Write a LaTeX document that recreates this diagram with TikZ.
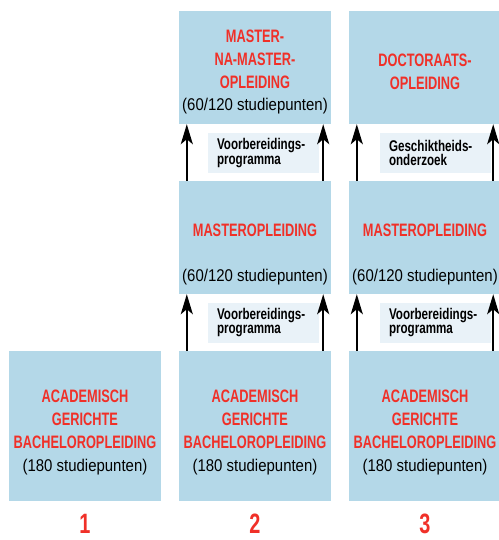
\documentclass[tikz,border=0pt]{standalone}
\usepackage{fontspec}
\usetikzlibrary{arrows.meta}
\newfontfamily\titlefont[FakeStretch=0.71]{Liberation Sans}
\newfontfamily\bodyfont[FakeStretch=0.88]{Liberation Sans}
\newfontfamily\labelfont[FakeStretch=0.75]{Liberation Sans}
\definecolor{boxblue}{RGB}{180,216,232}
\definecolor{labelblue}{RGB}{233,242,248}
\definecolor{titlered}{RGB}{240,48,40}
\tikzset{
  stagebox/.style={fill=boxblue, draw=none, inner sep=0pt, minimum width=152pt},
  topbox/.style={stagebox, minimum height=113pt},
  bachbox/.style={stagebox, minimum height=150pt},
  titletext/.style={anchor=north, inner sep=0pt, align=center, text=titlered,
    font=\titlefont\bfseries\fontsize{18}{23}\selectfont},
  bodytext/.style={anchor=base, inner sep=0pt, text=black,
    font=\bodyfont\fontsize{17}{20}\selectfont},
  labelbox/.style={fill=labelblue, draw=none, inner xsep=9pt, inner ysep=0pt,
    text width=93pt, minimum height=40pt, align=left,
    font=\labelfont\bfseries\fontsize{15.5}{14.5}\selectfont},
  numtext/.style={anchor=north, inner sep=0pt, text=titlered,
    font=\titlefont\bfseries\fontsize{28}{28}\selectfont},
  uparrow/.style={draw=black, line width=2.2pt,
    -{Stealth[length=20pt, width=12pt, inset=5pt]}}
}
\begin{document}
\begin{tikzpicture}[x=1pt, y=-1pt]
\useasboundingbox (0,0) rectangle (498,540);
% boxes
\node[bachbox] (b1) at (85,426) {};
\node[bachbox] (b2) at (255,426) {};
\node[bachbox] (b3) at (425,426) {};
\node[topbox] (m2) at (255,237.5) {};
\node[topbox] (m3) at (425,237.5) {};
\node[topbox] (t2) at (255,67.5) {};
\node[topbox] (t3) at (425,67.5) {};
% titles
\node[titletext] (t2title) at (255,30) {MASTER-\\NA-MASTER-\\OPLEIDING};
\node[bodytext] (t2sub) at (255,111) {(60/120 studiepunten)};
\node[titletext] (t3title) at (425,53.3) {DOCTORAATS-\\OPLEIDING};
\node[titletext] (m2title) at (255,223.3) {MASTEROPLEIDING};
\node[bodytext] (m2sub) at (255,281) {(60/120 studiepunten)};
\node[titletext] (m3title) at (425,223.3) {MASTEROPLEIDING};
\node[bodytext] (m3sub) at (425,281) {(60/120 studiepunten)};
\node[titletext] (b1title) at (85,389.3) {ACADEMISCH\\GERICHTE\\BACHELOROPLEIDING};
\node[bodytext] (b1sub) at (85,471) {(180 studiepunten)};
\node[titletext] (b2title) at (255,389.3) {ACADEMISCH\\GERICHTE\\BACHELOROPLEIDING};
\node[bodytext] (b2sub) at (255,471) {(180 studiepunten)};
\node[titletext] (b3title) at (425,389.3) {ACADEMISCH\\GERICHTE\\BACHELOROPLEIDING};
\node[bodytext] (b3sub) at (425,471) {(180 studiepunten)};
% label boxes
\node[labelbox] (l2top) at (263.5,153) {Voorbereidings-\\programma};
\node[labelbox] (l2bot) at (263.5,322.5) {Voorbereidings-\\programma};
\node[labelbox] (l3top) at (435.5,153) {Geschiktheids-\\onderzoek};
\node[labelbox] (l3bot) at (435.5,322.5) {Voorbereidings-\\programma};
% arrows
\draw[uparrow] ([xshift=8pt]b2.north west) -- ([xshift=8pt]m2.south west);
\draw[uparrow] ([xshift=-8pt]b2.north east) -- ([xshift=-8pt]m2.south east);
\draw[uparrow] ([xshift=8pt]m2.north west) -- ([xshift=8pt]t2.south west);
\draw[uparrow] ([xshift=-8pt]m2.north east) -- ([xshift=-8pt]t2.south east);
\draw[uparrow] ([xshift=8pt]b3.north west) -- ([xshift=8pt]m3.south west);
\draw[uparrow] ([xshift=-8pt]b3.north east) -- ([xshift=-8pt]m3.south east);
\draw[uparrow] ([xshift=8pt]m3.north west) -- ([xshift=8pt]t3.south west);
\draw[uparrow] ([xshift=-8pt]m3.north east) -- ([xshift=-8pt]t3.south east);
% numbers
\node[numtext] (n1) at (85,514) {1};
\node[numtext] (n2) at (255,514) {2};
\node[numtext] (n3) at (425,514) {3};
\end{tikzpicture}
\end{document}
